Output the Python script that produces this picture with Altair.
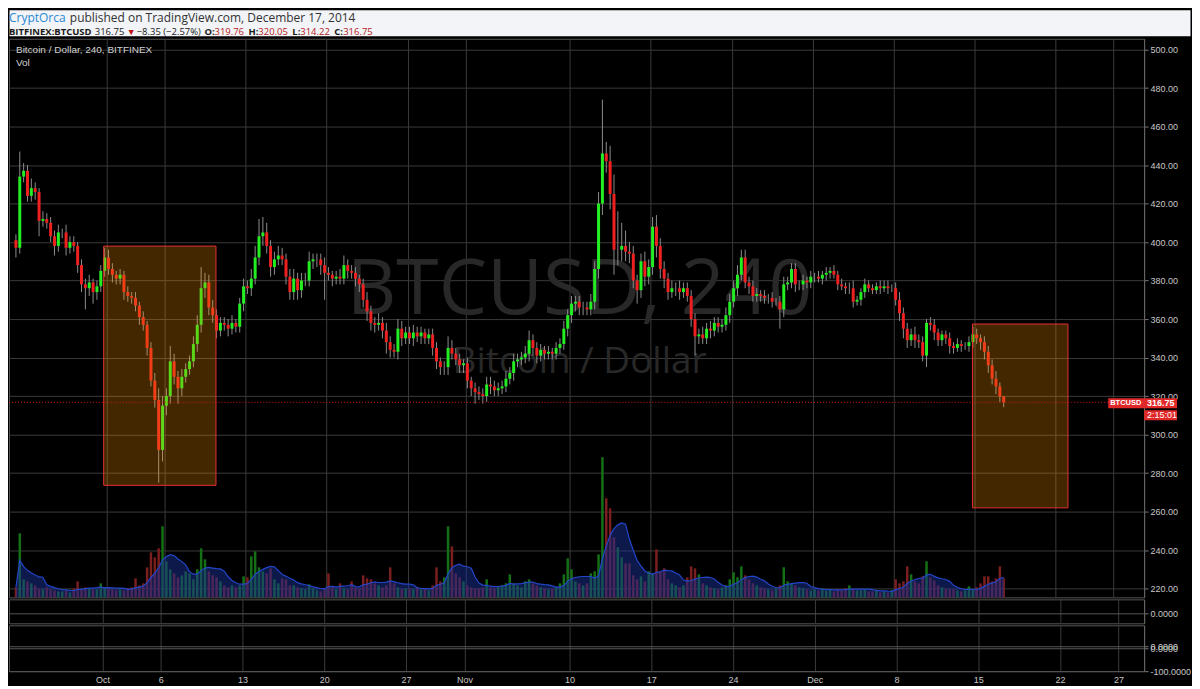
import altair as alt
import pandas as pd

# ---------------- data (8-hour candles, Sep 23 - Dec 17 2014) ----------------
first_open = 401.0
closes = [
    397, 434, 437,  # Sep 23
    424, 428, 426,  # Sep 24
    411, 412, 410,  # Sep 25
    403, 398, 405,  # Sep 26
    405, 397, 400,  # Sep 27
    398, 388, 378,  # Sep 28
    376, 379, 374,  # Sep 29
    377, 385, 392,  # Sep 30
    386, 383, 381,  # Oct 1
    383, 374, 372,  # Oct 2
    371, 367, 361,  # Oct 3
    357, 345, 328,  # Oct 4
    318, 292, 315,  # Oct 5
    320, 338, 330,  # Oct 6
    324, 330, 334,  # Oct 7
    338, 347, 357,  # Oct 8
    376, 379, 366,  # Oct 9
    362, 354, 358,  # Oct 10
    357, 355, 358,  # Oct 11
    356, 368, 377,  # Oct 12
    376, 381, 392,  # Oct 13
    403, 405, 398,  # Oct 14
    387, 391, 393,  # Oct 15
    391, 382, 374,  # Oct 16
    381, 375, 380,  # Oct 17
    380, 390, 391,  # Oct 18
    391, 388, 384,  # Oct 19
    383, 381, 382,  # Oct 20
    381, 388, 385,  # Oct 21
    384, 381, 378,  # Oct 22
    370, 364, 358,  # Oct 23
    357, 358, 354,  # Oct 24
    348, 344, 343,  # Oct 25
    355, 350, 353,  # Oct 26
    350, 353, 351,  # Oct 27
    353, 350, 352,  # Oct 28
    345, 338, 335,  # Oct 29
    335, 345, 342,  # Oct 30
    339, 336, 337,  # Oct 31
    328, 324, 322,  # Nov 1
    321, 320, 326,  # Nov 2
    325, 323, 324,  # Nov 3
    325, 329, 332,  # Nov 4
    338, 339, 340,  # Nov 5
    342, 349, 345,  # Nov 6
    341, 344, 342,  # Nov 7
    343, 342, 345,  # Nov 8
    347, 355, 362,  # Nov 9
    368, 369, 366,  # Nov 10
    366, 365, 369,  # Nov 11
    386, 420, 446,  # Nov 12
    442, 425, 396,  # Nov 13
    396, 398, 395,  # Nov 14
    394, 380, 375,  # Nov 15
    390, 382, 387,  # Nov 16
    408, 398, 386,  # Nov 17
    381, 374, 376,  # Nov 18
    376, 374, 376,  # Nov 19
    372, 360, 351,  # Nov 20
    352, 350, 355,  # Nov 21
    354, 358, 356,  # Nov 22
    357, 362, 369,  # Nov 23
    376, 383, 392,  # Nov 24
    379, 377, 372,  # Nov 25
    373, 372, 371,  # Nov 26
    371, 369, 369,  # Nov 27
    365, 378, 379,  # Nov 28
    386, 378, 378,  # Nov 29
    380, 379, 382,  # Nov 30
    382, 381, 383,  # Dec 1
    384, 385, 383,  # Dec 2
    378, 377, 376,  # Dec 3
    376, 369, 370,  # Dec 4
    374, 378, 376,  # Dec 5
    375, 377, 376,  # Dec 6
    377, 376, 376,  # Dec 7
    370, 363, 355,  # Dec 8
    349, 352, 349,  # Dec 9
    348, 341, 358,  # Dec 10
    357, 353, 349,  # Dec 11
    352, 350, 346,  # Dec 12
    345, 347, 346,  # Dec 13
    346, 348, 352,  # Dec 14
    350, 348, 343,  # Dec 15
    336, 329, 325,  # Dec 16
    319.76, 316.75,  # Dec 17
]
up_wick = [
    3, 13, 4,  3, 5, 3,  2, 4, 3,  3, 3, 4,  2, 4, 3,  3, 2, 3,  3, 4, 2,  3, 3, 5,      # Sep 23-30
    4, 3, 2,  3, 2, 3,  2, 3, 2,  3, 2, 3,  4, 6, 5,  4, 8, 4,  3, 4, 3,  3, 4, 5,      # Oct 1-8
    11, 5, 4,  4, 3, 3,  3, 3, 4,  2, 3, 4,  3, 5, 6,  9, 8, 5,  3, 4, 5,  4, 3, 4,     # Oct 9-16
    5, 3, 4,  4, 5, 3,  3, 3, 4,  3, 2, 3,  4, 5, 3,  3, 3, 2,  3, 4, 3,  3, 5, 3,      # Oct 17-24
    4, 3, 3,  5, 4, 3,  3, 4, 3,  3, 2, 3,  3, 3, 2,  3, 6, 4,  3, 3, 2,  3, 2, 3,      # Oct 25-Nov 1
    3, 3, 4,  4, 3, 3,  3, 4, 3,  4, 3, 3,  4, 5, 3,  3, 3, 2,  3, 2, 3,  3, 4, 3,      # Nov 2-9
    4, 3, 3,  3, 3, 4,  4, 6, 28,  6, 8, 10,  20, 12, 8,  5, 4, 3,  4, 5, 4,  5, 6, 4,  # Nov 10-17
    4, 3, 4,  3, 4, 3,  3, 3, 3,  3, 4, 3,  4, 3, 3,  3, 4, 4,  4, 5, 4,  4, 3, 3,      # Nov 18-25
    3, 2, 3,  2, 3, 2,  3, 4, 3,  3, 3, 2,  3, 2, 3,  2, 3, 2,  3, 2, 3,  2, 3, 2,      # Nov 26-Dec 3
    3, 4, 2,  2, 3, 2,  2, 2, 3,  3, 3, 2,  3, 4, 3,  3, 3, 4,  3, 3, 2,  3, 3, 2,      # Dec 4-11
    2, 2, 3,  2, 3, 2,  2, 3, 4,  3, 2, 3,  3, 3, 4,  2, 0.29,                           # Dec 12-17
]
down_wick = [
    5, 3, 3,  3, 3, 4,  8, 3, 3,  3, 5, 3,  3, 4, 3,  3, 4, 4,  11, 4, 6,  4, 3, 3,     # Sep 23-30
    3, 4, 3,  3, 4, 3,  3, 3, 4,  3, 4, 3,  4, 17, 6,  5, 4, 4,  8, 4, 3,  3, 3, 4,     # Oct 1-8
    4, 5, 4,  4, 4, 3,  3, 4, 3,  3, 3, 4,  3, 4, 3,  4, 5, 4,  5, 4, 3,  3, 4, 4,      # Oct 9-16
    4, 5, 4,  3, 3, 4,  4, 5, 14,  3, 4, 3,  3, 3, 4,  3, 4, 4,  4, 5, 4,  4, 3, 4,     # Oct 17-24
    6, 4, 3,  4, 4, 3,  3, 4, 3,  4, 3, 3,  4, 4, 4,  4, 4, 3,  3, 4, 4,  4, 4, 6,      # Oct 25-Nov 1
    3, 4, 3,  4, 3, 3,  3, 3, 3,  4, 3, 3,  3, 4, 4,  4, 3, 3,  3, 3, 3,  3, 3, 4,      # Nov 2-9
    4, 4, 4,  4, 3, 3,  4, 5, 6,  6, 8, 13,  8, 6, 5,  5, 4, 7,  4, 5, 4,  4, 6, 5,     # Nov 10-17
    5, 4, 3,  4, 4, 3,  3, 4, 10,  4, 3, 3,  4, 3, 3,  3, 3, 4,  3, 4, 3,  3, 4, 3,     # Nov 18-25
    3, 3, 3,  3, 3, 2,  10, 4, 3,  3, 4, 3,  3, 3, 3,  3, 2, 3,  3, 3, 2,  3, 2, 3,     # Nov 26-Dec 3
    3, 3, 2,  3, 3, 2,  2, 2, 3,  2, 3, 2,  3, 4, 5,  4, 3, 4,  3, 3, 6,  3, 4, 3,      # Dec 4-11
    3, 3, 4,  3, 2, 3,  2, 3, 3,  3, 4, 4,  4, 3, 4,  3, 2.53,                           # Dec 12-17
]
volume = [
    10, 64, 18,  16, 14, 12,  9, 8, 10,  8, 7, 6,  6, 7, 5,  9, 16, 8,  10, 9, 8,  8, 14, 10,
    9, 8, 7,  8, 7, 9,  10, 19, 12,  14, 30, 45,  40, 49, 71,  36, 28, 24,  20, 22, 26,  24, 18, 28,
    49, 38, 26,  22, 20, 16,  12, 10, 12,  10, 12, 21,  20, 41, 46,  30, 26, 24,  29, 18, 14,  19, 18, 12,
    12, 10, 9,  8, 13, 9,  7, 6, 8,  24, 10, 8,  14, 9, 8,  16, 10, 9,  22, 19, 18,  14, 12, 10,
    12, 30, 14,  10, 8, 9,  9, 8, 10,  8, 9, 7,  12, 30, 16,  20, 71, 51,  24, 20, 16,  12, 10, 9,
    9, 10, 18,  10, 9, 11,  12, 14, 23,  14, 12, 10,  16, 18, 14,  12, 10, 9,  8, 9, 10,  14, 23, 39,
    28, 16, 14,  12, 14, 24,  26, 43, 140,  99, 89, 60,  50, 40, 34,  34, 22, 18,  21, 16, 26,  24, 48, 26,
    29, 18, 14,  12, 10, 12,  20, 31, 29,  23, 14, 12,  10, 9, 8,  10, 12, 18,  25, 20, 31,  22, 18, 14,
    12, 10, 9,  8, 7, 9,  12, 30, 16,  14, 12, 10,  9, 8, 7,  8, 7, 9,  7, 8, 6,  8, 7, 9,
    12, 8, 7,  7, 8, 6,  6, 7, 5,  6, 5, 7,  18, 14, 16,  31, 23, 16,  14, 21, 36,  20, 17, 12,
    10, 9, 8,  8, 7, 6,  7, 11, 8,  10, 14, 21,  21, 16, 19,  31, 19,
]

tick_days = [0, 5, 12, 19, 26, 31, 40, 47, 54, 61, 68, 75, 82, 87]   # days after Oct 1
tick_labels = ["Oct", "6", "13", "20", "27", "Nov", "10", "17", "24", "Dec", "8", "15", "22", "27"]
price_ticks = [220, 240, 260, 280, 300, 320, 340, 360, 380, 400, 420, 440, 460, 480, 500]

box_start = [-0.25, 74.8]
box_end = [9.45, 83.05]
box_top = [397.9, 357.4]
box_bottom = [273.6, 261.9]

# ---------------- tables ----------------
n = min(len(closes), len(up_wick), len(down_wick), len(volume))
closes, up_wick, down_wick, volume = closes[:n], up_wick[:n], down_wick[:n], volume[:n]
opens = [first_open] + closes[:-1]
t = [-8 + (i + 0.5) / 3 for i in range(n)]
highs = [max(o, c) + u for o, c, u in zip(opens, closes, up_wick)]
lows = [min(o, c) - d for o, c, d in zip(opens, closes, down_wick)]
df = pd.DataFrame(dict(t=t, open=opens, close=closes, high=highs, low=lows, volume=volume))
last = df.tail(1)
boxes = pd.DataFrame(dict(x1=box_start, x2=box_end, y1=box_top, y2=box_bottom))
one = pd.DataFrame({"k": [0]})

# ---------------- style ----------------
W = 1138
H_PRICE = 560
GREEN = "#22ee22"
RED = "#ee2020"
AXFONT = "Liberation Sans"
GRID = "#3a3a3a"

xs = alt.Scale(domain=[-8.0, 89.2], nice=False, zero=False)
ps = alt.Scale(domain=[215.4, 505.6], nice=False, zero=False)
vs = alt.Scale(domain=[0, 558], nice=False, zero=True)

grid_x = alt.Axis(values=tick_days, labels=False, ticks=False, domain=False, grid=True,
                  gridColor=GRID, title=None)
price_axis = alt.Axis(orient="right", values=price_ticks, format=".2f", grid=True, gridColor=GRID,
                      tickSize=4, labelPadding=2, title=None)


def X(field):
    return alt.X(field, scale=xs, axis=grid_x, title=None)


def PY(field):
    return alt.Y(field, scale=ps, axis=price_axis, title=None)


# ---------------- price pane ----------------
watermark = alt.layer(
    alt.Chart(one).mark_text(text="BTCUSD, 240", font="Open Sans", fontSize=77, color="#282828",
                             align="center", baseline="middle").encode(x=alt.value(572), y=alt.value(253)),
    alt.Chart(one).mark_text(text="Bitcoin / Dollar", font="Open Sans", fontSize=37, color="#282828",
                             align="center", baseline="middle").encode(x=alt.value(572), y=alt.value(324)),
)

vol_bars = alt.Chart(df).mark_bar(size=2.5).encode(
    x=X("t:Q"),
    y=alt.Y("volume:Q", scale=vs, axis=None),
    color=alt.condition("datum.close >= datum.open", alt.value("#157015"), alt.value("#7a1e1e")),
)
vol_ma = alt.Chart(df).transform_window(
    vma="mean(volume)", frame=[-6, 0], sort=[alt.SortField("t")]
).mark_area(color="#1a2f96", fillOpacity=0.5,
            line=alt.OverlayMarkDef(color="#2346c8", strokeWidth=1.2)).encode(
    x=X("t:Q"), y=alt.Y("vma:Q", scale=vs, axis=None)
)
vol_group = alt.layer(vol_bars, vol_ma)

wicks = alt.Chart(df).mark_rule(color="#8c8c8c", strokeWidth=1).encode(
    x=X("t:Q"), y=PY("low:Q"), y2="high:Q")
bodies = alt.Chart(df).mark_bar(size=3).encode(
    x=X("t:Q"), y=PY("open:Q"), y2="close:Q",
    color=alt.condition("datum.close >= datum.open", alt.value(GREEN), alt.value(RED)))
rects = alt.Chart(boxes).mark_rect(fill="#ff9800", fillOpacity=0.26, stroke="#e53030", strokeWidth=1).encode(
    x=X("x1:Q"), x2="x2:Q", y=PY("y1:Q"), y2="y2:Q")
last_line = alt.Chart(last).mark_rule(color="#d81818", strokeDash=[1, 2], strokeWidth=1).encode(
    y=PY("close:Q"))
tag1 = alt.Chart(last).mark_rect(color="#e02828", yOffset=-4, y2Offset=6).encode(
    y=PY("close:Q"), y2="close:Q", x=alt.value(W - 36), x2=alt.value(W + 33))
tag2 = alt.Chart(last).mark_rect(color="#e02828", yOffset=8, y2Offset=18).encode(
    y=PY("close:Q"), y2="close:Q", x=alt.value(W), x2=alt.value(W + 33))
tag_t1 = alt.Chart(last).mark_text(text="BTCUSD", color="white", font=AXFONT, fontSize=7.5, fontWeight="bold",
                                   align="left", baseline="middle", yOffset=1).encode(
    y=PY("close:Q"), x=alt.value(W - 34))
tag_t2 = alt.Chart(last).mark_text(color="white", font=AXFONT, fontSize=9, fontWeight="bold",
                                   align="left", baseline="middle", yOffset=1).encode(
    y=PY("close:Q"), x=alt.value(W + 3), text=alt.Text("close:Q", format=".2f"))
tag_t3 = alt.Chart(last).mark_text(text="2:15:01", color="white", font=AXFONT, fontSize=9,
                                   align="left", baseline="middle", yOffset=13).encode(
    y=PY("close:Q"), x=alt.value(W + 3))
price_group = alt.layer(wicks, bodies, rects, last_line, tag1, tag2, tag_t1, tag_t2, tag_t3)

legend = alt.layer(
    alt.Chart(one).mark_text(text="Bitcoin / Dollar, 240, BITFINEX", font=AXFONT, fontSize=10, color="#d0d0d0",
                             align="left", baseline="middle").encode(x=alt.value(7), y=alt.value(11)),
    alt.Chart(one).mark_text(text="Vol", font=AXFONT, fontSize=10, color="#d0d0d0",
                             align="left", baseline="middle").encode(x=alt.value(7), y=alt.value(24)),
)

price_pane = alt.layer(watermark, vol_group, price_group, legend).resolve_scale(y="independent").properties(
    width=W, height=H_PRICE, view=alt.ViewBackground(fill="#000000", stroke="#555555"))

# ---------------- empty indicator panes ----------------
pane2 = alt.Chart(pd.DataFrame({"t": [0], "v": [0]})).mark_point(opacity=0).encode(
    x=X("t:Q"),
    y=alt.Y("v:Q", scale=alt.Scale(domain=[-0.7, 1.0], nice=False),
            axis=alt.Axis(orient="right", values=[0], format=".4f", grid=True, gridColor="#555555",
                          tickSize=4, labelPadding=2, title=None)),
).properties(width=W, height=24, view=alt.ViewBackground(fill="#000000", stroke="#555555"))

label_expr = "".join(f"datum.value == {d} ? '{l}' : " for d, l in zip(tick_days, tick_labels)) + "''"
pane3 = alt.Chart(pd.DataFrame({"t": [0], "v": [0]})).mark_point(opacity=0).encode(
    x=alt.X("t:Q", scale=xs, title=None,
            axis=alt.Axis(values=tick_days, labelExpr=label_expr, grid=True, gridColor=GRID, ticks=False,
                          domain=False, labelPadding=4, labelFontSize=9, title=None)),
    y=alt.Y("v:Q", scale=alt.Scale(domain=[-100, 84], nice=False),
            axis=alt.Axis(orient="right", values=[0, -8, -100], labelOverlap=False,
                          labelExpr="datum.value == -100 ? '-100.0000' : '0.0000'",
                          grid=True, gridColor="#555555", tickSize=4, labelPadding=2, title=None)),
).properties(width=W, height=46, view=alt.ViewBackground(fill="#000000", stroke="#555555"))

# ---------------- header ----------------
HF = "Open Sans"
segments = [
    ("CryptOrca", 0, 12, "#2a8ad4", "normal", 12),
    ("published on TradingView.com, December 17, 2014", 61, 12, "#333333", "normal", 12),
    ("BITFINEX:BTCUSD", 0, 25, "#1a1a1a", "bold", 9.5),
    ("316.75", 86, 25, "#1a1a1a", "normal", 9.5),
    ("\u25BC", 118, 25, "#c01818", "normal", 9),
    ("\u22128.35 (\u22122.57%)", 128, 25, "#1a1a1a", "normal", 9.5),
    ("O:", 196, 25, "#1a1a1a", "bold", 9.5),
    ("319.76", 206, 25, "#b52020", "normal", 9.5),
    ("H:", 240, 25, "#1a1a1a", "bold", 9.5),
    ("320.05", 250, 25, "#b52020", "normal", 9.5),
    ("L:", 284, 25, "#1a1a1a", "bold", 9.5),
    ("314.22", 292, 25, "#b52020", "normal", 9.5),
    ("C:", 326, 25, "#1a1a1a", "bold", 9.5),
    ("316.75", 335, 25, "#b52020", "normal", 9.5),
]
header = alt.layer(*[
    alt.Chart(one).mark_text(text=s, font=HF, fontSize=fs, fontWeight=fw, color=c,
                             align="left", baseline="alphabetic").encode(x=alt.value(x), y=alt.value(y))
    for s, x, y, c, fw, fs in segments
]).properties(width=1184, height=26, view=alt.ViewBackground(fill="#f2f4f7", stroke="transparent"))

chart = alt.vconcat(header, price_pane, pane2, pane3, spacing=0).properties(
    padding=0, background="#000000"
).configure_axis(
    labelFont=AXFONT, labelColor="#c8c8c8", labelFontSize=9, domainColor="#666666", tickColor="#777777"
)

chart.save("out.html", embed_options={"renderer": "svg", "actions": False})
